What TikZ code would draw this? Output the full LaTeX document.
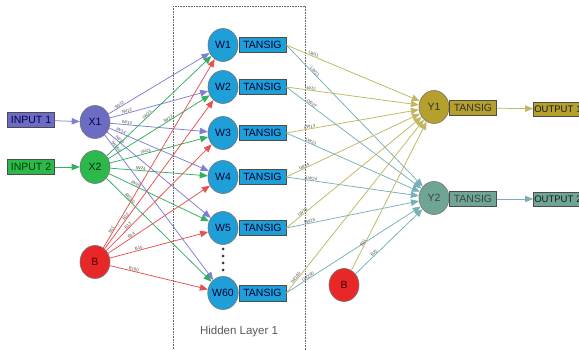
\documentclass[tikz,border=0pt]{standalone}
\usepackage{fontspec}
\setmainfont{Liberation Sans}
\usetikzlibrary{shapes.geometric,arrows.meta}
\definecolor{inblue}{RGB}{108,108,196}
\definecolor{ingreen}{RGB}{45,184,76}
\definecolor{bred}{RGB}{232,40,40}
\definecolor{wblue}{RGB}{30,159,216}
\definecolor{yolive}{RGB}{180,160,42}
\definecolor{yteal}{RGB}{111,165,149}
\definecolor{lblue}{RGB}{127,127,216}
\definecolor{lgreen}{RGB}{48,176,96}
\definecolor{lred}{RGB}{232,80,80}
\definecolor{lolive}{RGB}{192,184,96}
\definecolor{lteal}{RGB}{120,176,184}
\begin{document}
\begin{tikzpicture}[x=1pt,y=-1pt,
  neuron/.style={ellipse, draw=black!55, line width=0.6pt, minimum width=30pt, minimum height=33pt, inner sep=0pt, font=\fontsize{10.5}{12}\selectfont},
  boxn/.style={rectangle, draw=black!70, line width=0.5pt, minimum width=47pt, minimum height=15.5pt, inner sep=0pt, font=\fontsize{10.5}{12}\selectfont},
  outbox/.style={rectangle, draw=black!70, line width=0.5pt, minimum height=14pt, text width=60pt, inner xsep=1pt, inner ysep=0pt, align=left, font=\fontsize{9.5}{11}\selectfont},
  wlab/.style={sloped, above=-0.3pt, font=\fontsize{4.3}{5}\selectfont, text=black!70, inner sep=0.5pt},
  conn/.style={line width=0.75pt, -{Triangle[length=8pt,width=6.5pt]}}
]
\useasboundingbox (0,0) rectangle (579,350);
\clip (0,0) rectangle (579,350);
\fill[white] (0,0) rectangle (579,350);

% hidden layer frame
\draw[black!60, densely dotted, line width=0.6pt] (173,6) rectangle (305,360);
\node[text=black!65, font=\fontsize{11.5}{13}\selectfont] (HL) at (239,332) {Hidden Layer 1};

% input side
\node[boxn, fill=inblue, text=blue!30!black] (IN1) at (31,120) {INPUT 1};
\node[boxn, fill=ingreen, text=green!25!black] (IN2) at (31,167) {INPUT 2};
\node[neuron, fill=inblue, text=blue!30!black] (X1) at (95,122) {X1};
\node[neuron, fill=ingreen, text=green!20!black] (X2) at (95,167) {X2};
\node[neuron, fill=bred, text=red!30!black] (B) at (95,262) {B};

% hidden neurons
\foreach \w/\y in {1/45,2/87,3/133,4/177,5/228,60/293}{
  \node[neuron, fill=wblue, text=blue!20!black] (W\w) at (223,\y) {W\w};
  \node[boxn, fill=wblue, text=blue!20!black] (T\w) at (262.5,\y) {TANSIG};
}
\foreach \y in {249,256,263,270}{\fill[black!80] (223,\y) circle (1.5);}

% output side
\node[neuron, fill=yolive, text=black!80] (Y1) at (434,107) {Y1};
\node[boxn, fill=yolive, text=black!80] (TY1) at (473,108) {TANSIG};
\node[outbox, fill=yolive, text=black!90, anchor=west] (OUT1) at (533,109) {OUTPUT 1};
\node[neuron, fill=yteal, text=black!75] (Y2) at (434,198) {Y2};
\node[boxn, fill=yteal, text=black!75] (TY2) at (473,199) {TANSIG};
\node[outbox, fill=yteal, text=black!90, anchor=west] (OUT2) at (533,199) {OUTPUT 2};
\node[neuron, fill=bred, text=red!30!black] (B2) at (344,285) {B};

% input arrows
\draw[conn, lblue] (IN1) -- (X1);
\draw[conn, lgreen] (IN2) -- (X2);

% X1 -> hidden
\foreach \w/\p in {1/0.12,2/0.18,3/0.17,4/0.11,5/0.11,60/0.09}{
  \draw[conn, lblue] (X1) -- node[wlab, pos=\p]{IW1\w} (W\w);
}
% X2 -> hidden
\foreach \w/\p in {1/0.40,2/0.60,3/0.37,4/0.31,5/0.26,60/0.21}{
  \draw[conn, lgreen] (X2) -- node[wlab, pos=\p]{IW2\w} (W\w);
}
% B -> hidden
\foreach \w/\p in {1/0.09,2/0.21,3/0.22,4/0.24,5/0.3,60/0.24}{
  \draw[conn, lred] (B) -- node[wlab, pos=\p]{B1\w} (W\w);
}

% hidden -> outputs
\foreach \w/\p/\q in {1/0.2/0.2,2/0.18/0.18,3/0.18/0.18,4/0.14/0.19,5/0.13/0.18,60/0.08/0.17}{
  \draw[conn, lolive] (T\w.east) -- node[wlab, pos=\p]{LW1\w} (Y1);
  \draw[conn, lteal] (T\w.east) -- node[wlab, pos=\q]{LW2\w} (Y2);
}
\draw[conn, lolive] (B2) -- node[wlab, pos=0.18]{B21} (Y1);
\draw[conn, lteal] (B2) -- node[wlab, pos=0.3]{B22} (Y2);

% output arrows
\draw[conn, lolive] (TY1) -- (OUT1);
\draw[conn, lteal] (TY2) -- (OUT2);
\end{tikzpicture}
\end{document}
